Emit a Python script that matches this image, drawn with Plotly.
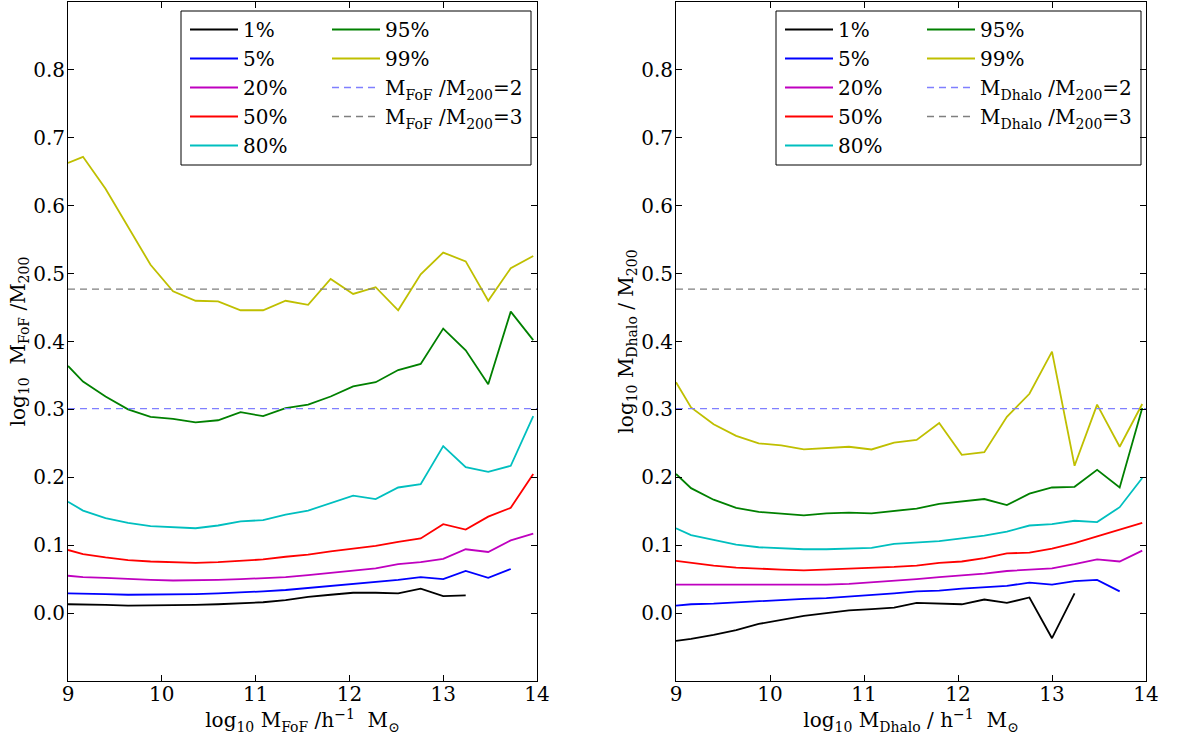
import numpy as np
import plotly.graph_objects as go

# ---------------- data ----------------
x_bins = [9.0, 9.16, 9.40, 9.64, 9.88, 10.12, 10.36, 10.60, 10.84, 11.08, 11.32,
          11.56, 11.80, 12.04, 12.28, 12.52, 12.76, 13.00, 13.24, 13.48, 13.72, 13.96]

percentile_labels = ["1%", "5%", "20%", "50%", "80%", "95%", "99%"]
colors = ["#000000", "#0000ff", "#bf00bf", "#ff0000", "#00bfbf", "#008000", "#bfbf00"]

# left panel: log10 M_FoF / M200
fof_p01 = [0.013, 0.013, 0.012, 0.011, 0.011, 0.011, 0.012, 0.013, 0.014, 0.016, 0.019,
           0.024, 0.027, 0.030, 0.030, 0.029, 0.036, 0.025, 0.026]
fof_p05 = [0.029, 0.029, 0.028, 0.027, 0.027, 0.027, 0.028, 0.029, 0.030, 0.032, 0.034,
           0.037, 0.039, 0.042, 0.046, 0.049, 0.053, 0.050, 0.062, 0.052, 0.065]
fof_p20 = [0.055, 0.053, 0.052, 0.050, 0.049, 0.048, 0.048, 0.049, 0.050, 0.051, 0.053,
           0.056, 0.059, 0.062, 0.066, 0.072, 0.075, 0.080, 0.094, 0.090, 0.107, 0.117]
fof_p50 = [0.093, 0.087, 0.082, 0.078, 0.076, 0.075, 0.074, 0.075, 0.077, 0.079, 0.083,
           0.086, 0.091, 0.095, 0.099, 0.105, 0.110, 0.131, 0.123, 0.142, 0.155, 0.205]
fof_p80 = [0.164, 0.151, 0.140, 0.133, 0.128, 0.126, 0.125, 0.129, 0.135, 0.137, 0.145,
           0.151, 0.162, 0.173, 0.168, 0.185, 0.190, 0.246, 0.215, 0.208, 0.217, 0.290]
fof_p95 = [0.364, 0.341, 0.319, 0.300, 0.289, 0.286, 0.281, 0.284, 0.296, 0.290, 0.302,
           0.307, 0.319, 0.334, 0.340, 0.358, 0.367, 0.419, 0.387, 0.337, 0.444, 0.402]
fof_p99 = [0.663, 0.672, 0.625, 0.569, 0.513, 0.474, 0.460, 0.459, 0.446, 0.446, 0.460,
           0.454, 0.492, 0.470, 0.480, 0.446, 0.499, 0.531, 0.518, 0.460, 0.508, 0.526]

# right panel: log10 M_Dhalo / M200
dh_p01 = [-0.041, -0.038, -0.032, -0.025, -0.016, -0.010, -0.004, 0.000, 0.004, 0.006, 0.008,
          0.015, 0.014, 0.013, 0.020, 0.015, 0.023, -0.037, 0.029]
dh_p05 = [0.011, 0.013, 0.014, 0.016, 0.018, 0.019, 0.021, 0.022, 0.024, 0.026, 0.029,
          0.032, 0.033, 0.036, 0.038, 0.040, 0.045, 0.042, 0.047, 0.049, 0.032]
dh_p20 = [0.042, 0.042, 0.042, 0.041, 0.041, 0.041, 0.041, 0.042, 0.043, 0.045, 0.048,
          0.050, 0.053, 0.055, 0.058, 0.062, 0.064, 0.066, 0.072, 0.079, 0.076, 0.092]
dh_p50 = [0.077, 0.074, 0.070, 0.067, 0.065, 0.064, 0.063, 0.064, 0.065, 0.066, 0.068,
          0.070, 0.074, 0.076, 0.081, 0.088, 0.089, 0.095, 0.103, 0.113, 0.123, 0.133]
dh_p80 = [0.125, 0.115, 0.108, 0.101, 0.097, 0.095, 0.094, 0.094, 0.095, 0.096, 0.102,
          0.104, 0.106, 0.110, 0.114, 0.120, 0.129, 0.131, 0.136, 0.134, 0.156, 0.199]
dh_p95 = [0.205, 0.184, 0.167, 0.155, 0.149, 0.147, 0.144, 0.147, 0.148, 0.147, 0.151,
          0.154, 0.161, 0.165, 0.168, 0.159, 0.176, 0.185, 0.186, 0.211, 0.185, 0.302]
dh_p99 = [0.340, 0.303, 0.278, 0.261, 0.250, 0.247, 0.241, 0.243, 0.245, 0.241, 0.251,
          0.255, 0.280, 0.233, 0.237, 0.289, 0.323, 0.385, 0.217, 0.307, 0.245, 0.308]

fof_series = [fof_p01, fof_p05, fof_p20, fof_p50, fof_p80, fof_p95, fof_p99]
dh_series = [dh_p01, dh_p05, dh_p20, dh_p50, dh_p80, dh_p95, dh_p99]

x_range = [9, 14]
ratios = [2, 3]
ratio_colors = ["#7f7fff", "#7f7f7f"]

x_ticks = [9, 10, 11, 12, 13, 14]
y_ticks = [0.0, 0.1, 0.2, 0.3, 0.4, 0.5, 0.6, 0.7, 0.8]
y_range = [-0.1, 0.9]

# ---------------- layout constants ----------------
W, H = 1186, 738
ML, MR, MT, MB = 68, 40, 2, 57
PW, PH = W - ML - MR, H - MT - MB
FONT = "DejaVu Serif"
FS = 20

def px2paper_x(px):
    return (px - ML) / PW

def px2paper_y(py):
    return 1 - (py - MT) / PH

left_dom = [0, px2paper_x(537)]
right_dom = [px2paper_x(676), 1.0]

fig = go.Figure()

panels = [
    ("x", "y", fof_series, "FoF", ("legend", "legend2")),
    ("x2", "y2", dh_series, "Dhalo", ("legend3", "legend4")),
]

for xa, ya, series, name, (lg1, lg2) in panels:
    for i, (lab, col, vals) in enumerate(zip(percentile_labels, colors, series)):
        fig.add_trace(go.Scatter(
            x=x_bins[:len(vals)], y=vals, mode="lines",
            line=dict(color=col, width=1.8),
            name=lab, xaxis=xa, yaxis=ya,
            legend=lg1 if i < 5 else lg2,
        ))
    for r, rc in zip(ratios, ratio_colors):
        fig.add_trace(go.Scatter(
            x=x_range, y=[np.log10(r)] * 2, mode="lines",
            line=dict(color=rc, width=1.3, dash="7px,5px"),
            name=f"M<sub>{name}</sub> /M<sub>200</sub>={r}",
            xaxis=xa, yaxis=ya, legend=lg2,
        ))

axis_common = dict(
    showgrid=False, zeroline=False, showline=True, linecolor="black", linewidth=1,
    mirror="ticks", ticks="inside", ticklen=6, tickcolor="black",
    tickfont=dict(family=FONT, size=FS, color="black"), automargin=False,
)

fig.update_layout(
    width=W, height=H,
    margin=dict(l=ML, r=MR, t=MT, b=MB, autoexpand=False),
    paper_bgcolor="white", plot_bgcolor="white",
    font=dict(family=FONT, size=FS, color="black"),
    xaxis=dict(domain=left_dom, range=x_range, tickvals=x_ticks, anchor="y", ticklabelstandoff=-5,
               title=dict(text="log<sub>10</sub> M<sub>FoF</sub> /h<sup>−1</sup>  M<sub>⊙</sub>",
                          font=dict(family=FONT, size=FS), standoff=0),
               **axis_common),
    yaxis=dict(domain=[0, 1], range=y_range, tickvals=y_ticks, tickformat=".1f", anchor="x",
               ticklabelstandoff=-2,
               title=dict(text="log<sub>10</sub>  M<sub>FoF</sub> /M<sub>200</sub>",
                          font=dict(family=FONT, size=FS), standoff=2),
               **axis_common),
    xaxis2=dict(domain=right_dom, range=x_range, tickvals=x_ticks, anchor="y2", ticklabelstandoff=-5,
                title=dict(text="log<sub>10</sub> M<sub>Dhalo</sub> / h<sup>−1</sup>  M<sub>⊙</sub>",
                           font=dict(family=FONT, size=FS), standoff=0),
                **axis_common),
    yaxis2=dict(domain=[0, 1], range=y_range, tickvals=y_ticks, tickformat=".1f", anchor="x2",
                ticklabelstandoff=-2,
                title=dict(text="log<sub>10</sub> M<sub>Dhalo</sub> / M<sub>200</sub>",
                           font=dict(family=FONT, size=FS), standoff=2),
                **axis_common),
    showlegend=True,
)

leg_common = dict(xanchor="left", yanchor="top",
                  bgcolor="rgba(0,0,0,0)", borderwidth=0, itemwidth=48,
                  font=dict(family=FONT, size=20, color="black"), tracegroupgap=0,
                  itemclick=False, itemdoubleclick=False)
leg_top = px2paper_y(10)
fig.update_layout(
    legend=dict(x=px2paper_x(185), y=leg_top, **leg_common),
    legend2=dict(x=px2paper_x(327), y=leg_top, **leg_common),
    legend3=dict(x=px2paper_x(780), y=leg_top, **leg_common),
    legend4=dict(x=px2paper_x(922), y=leg_top, **leg_common),
)

# legend frames
for (x0, x1) in [(181, 531), (776, 1141)]:
    fig.add_shape(type="rect", xref="paper", yref="paper",
                  x0=px2paper_x(x0), x1=px2paper_x(x1),
                  y0=px2paper_y(165), y1=px2paper_y(11),
                  line=dict(color="black", width=1), fillcolor="rgba(0,0,0,0)", layer="above")

fig.write_html("out.html")
